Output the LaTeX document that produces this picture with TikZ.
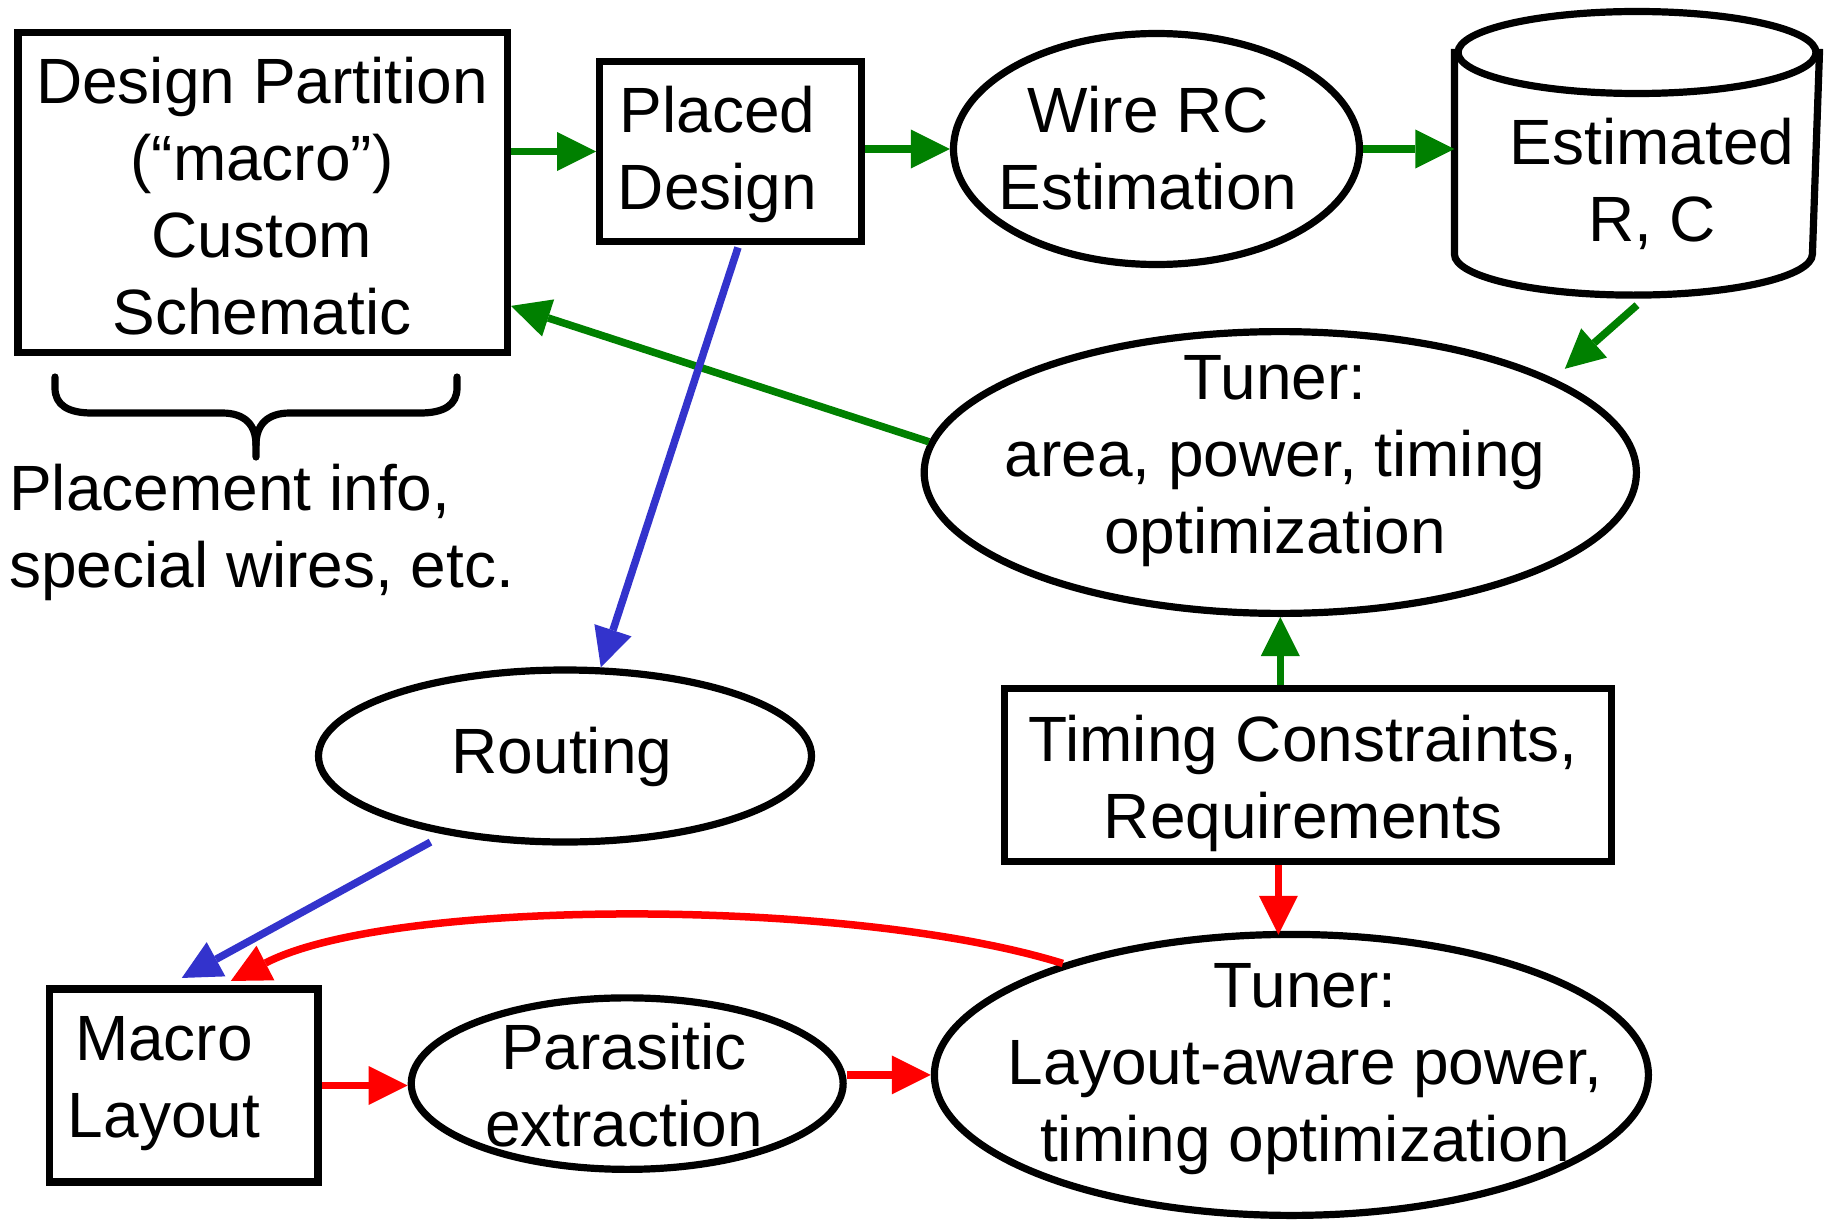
\documentclass[tikz,border=0pt]{standalone}
\usepackage{fontspec}
\setmainfont{Liberation Sans}
\usetikzlibrary{arrows.meta,shapes.geometric}
\definecolor{tgreen}{RGB}{0,128,0}
\definecolor{tblue}{RGB}{51,51,204}
\definecolor{tred}{RGB}{255,0,0}
\begin{document}
\begin{tikzpicture}[x=1pt,y=1pt,
  blk/.style={draw=black, line width=7.2pt, inner sep=0pt},
  txt/.style={font=\fontsize{64}{77}\selectfont, align=center, inner sep=0pt},
  conn/.style={line width=7.5pt, -{Triangle[length=39pt,width=39pt,line width=0pt]}},
  garrow/.style={conn, color=tgreen},
  barrow/.style={conn, color=tblue},
  rarrow/.style={conn, color=tred},
  bline/.style={line width=7.2pt, draw=black}]
\useasboundingbox (0,0) rectangle (1825,-1220);
\fill[white] (0,0) rectangle (1825,-1220);

% shapes
\node[blk, rectangle, minimum width=489.4pt, minimum height=320pt] (dp) at (262.7,-192.4) {};
\node[blk, rectangle, minimum width=261.8pt, minimum height=179.8pt] (pd) at (730.5,-151.5) {};
\node[blk, ellipse, minimum width=406pt, minimum height=231pt] (wire) at (1156.5,-149) {};
\node[inner sep=0pt, outer sep=3.6pt, minimum width=358pt, minimum height=280pt] (cyl) at (1637,-151.5) {};
\draw[bline] ([yshift=-41pt]cyl.north west) -- ([yshift=41pt]cyl.south west)
  arc[start angle=180, end angle=360, x radius=179pt, y radius=41pt] -- ([yshift=-41pt]cyl.north east);
\draw[bline] ([yshift=-44.6pt]cyl.north) ellipse[x radius=179pt, y radius=41pt];
\node[blk, ellipse, minimum width=712.2pt, minimum height=281.8pt] (tuner) at (1280.3,-472.5) {};
\node[blk, ellipse, minimum width=493pt, minimum height=172pt] (routing) at (565,-756) {};
\node[blk, rectangle, minimum width=606.5pt, minimum height=173pt] (tc) at (1308,-775) {};
\node[blk, rectangle, minimum width=268.3pt, minimum height=192.9pt] (macro) at (183.8,-1085.5) {};
\node[blk, ellipse, minimum width=431.9pt, minimum height=171.5pt] (para) at (627.2,-1083.6) {};
\node[blk, ellipse, minimum width=714pt, minimum height=281pt] (tuner2) at (1291.4,-1074.9) {};

% brace
\draw[bline, line cap=round, line join=round]
  (55,-377) -- (55,-388) .. controls (55,-405) and (68,-413) .. (92,-413) -- (222,-413)
  .. controls (245,-413) and (256,-425) .. (256,-445) -- (256,-457);
\draw[bline, line cap=round, line join=round]
  (457,-377) -- (457,-388) .. controls (457,-405) and (444,-413) .. (420,-413) -- (290,-413)
  .. controls (267,-413) and (256,-425) .. (256,-445);

% texts
\node[txt] (dptxt) at (262,-196.3) {Design Partition\\(“macro”)\\Custom\\Schematic};
\node[txt] (pdtxt) at (717.5,-154.7) {Placed\\Design};
\node[txt] (wiretxt) at (1148,-148.3) {Wire RC\\Estimation};
\node[txt] (cyltxt) at (1652,-184.3) {Estimated\\R, C};
\node[txt] (tunertxt) at (1275,-461.3) {Tuner:\\area, power, timing\\optimization};
\node[txt] (routingtxt) at (562,-757) {Routing};
\node[txt] (tctxt) at (1303,-783.6) {Timing Constraints,\\Requirements};
\node[txt] (macrotxt) at (164,-1083.4) {Macro\\Layout};
\node[txt] (paratxt) at (624,-1085) {Parasitic\\extraction};
\node[txt] (tuner2txt) at (1305,-1068.8) {Tuner:\\Layout-aware power,\\timing optimization};
\node[txt, align=left, anchor=west] (place) at (9,-532) {Placement info,\\special wires, etc.};

% green connectors
\draw[garrow] (dp.east |- pd.west) -- (pd.west);
\draw[garrow] (pd.east |- wire.west) -- (wire.west);
\draw[garrow] (wire.east) -- (wire.east -| cyl.west);
\draw[garrow] ([yshift=-10pt]cyl.south) -- ([shift={(18pt,6.7pt)}]tuner.20.6);
\draw[garrow] (tuner.175) -- ([yshift=-113.5pt]dp.east);
\draw[garrow] (tc.north -| tuner.south) -- (tuner.south);

% blue connectors
\draw[barrow] ([shift={(7.5pt,-2.5pt)}]pd.south) -- (routing.68.8);
\draw[barrow] ([shift={(-134.5pt,3.5pt)}]routing.south) -- ([shift={(-2pt,7.5pt)}]macro.north);

% red connectors
\draw[rarrow] ([xshift=-13pt]tuner2.north |- tc.south) -- ([shift={(-13pt,-4pt)}]tuner2.north);
\draw[rarrow] (tuner2.154.8) .. controls (849,-897) and (391,-898) .. ([shift={(47pt,4.5pt)}]macro.north);
\draw[rarrow] (macro.east) -- (macro.east -| para.west);
\draw[rarrow] (para.east |- tuner2.west) -- (tuner2.west);
\end{tikzpicture}
\end{document}
